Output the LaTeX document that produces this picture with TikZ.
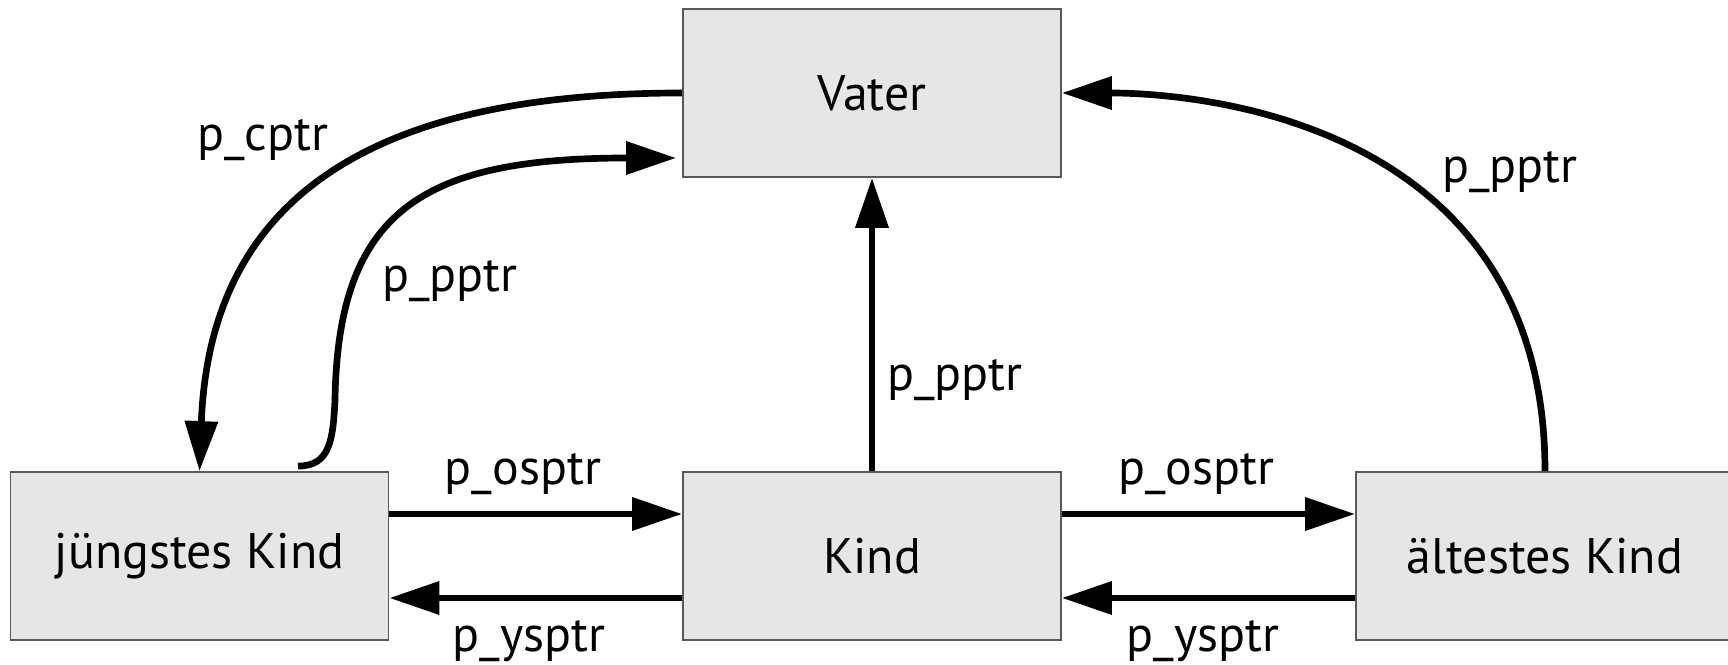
\documentclass[tikz,border=0pt]{standalone}
\usepackage{fontspec}
\setmainfont{PT Sans}
\usepackage{xcolor}
\usepackage{tikz}
\usetikzlibrary{arrows.meta}
\definecolor{boxgray}{HTML}{E6E6E6}
\tikzset{
  every node/.style={font=\fontsize{14.2}{17}\selectfont},
}
\begin{document}
\begin{tikzpicture}
		\tikzstyle{kbox}=[draw=black!65,line width=0.5pt,fill=boxgray,minimum width=3.78cm,minimum height=1.68cm,inner sep=0pt]
		\tikzstyle{ptr}=[line width=1.9pt,-{Triangle[length=0.5cm,width=0.32cm]}]
		\useasboundingbox (0,0) rectangle (17.28,-6.65);

		\node[kbox] (vater) at (8.72,-0.93) {Vater};
		\node[kbox] (jkind) at (1.995,-5.56) {jüngstes Kind};
		\node[kbox] (kind) at (8.72,-5.56) {Kind};
		\node[kbox] (akind) at (15.45,-5.56) {ältestes Kind};

		\node (lcptr) at (2.63,-1.40) {p\_cptr};
		\node (lpptrj) at (4.50,-2.81) {p\_pptr};
		\node (lpptrk) at (9.55,-3.80) {p\_pptr};
		\node (lpptra) at (15.10,-1.72) {p\_pptr};
		\node (losptrj) at (5.23,-4.74) {p\_osptr};
		\node (losptrk) at (11.96,-4.74) {p\_osptr};
		\node (lysptrk) at (5.29,-6.41) {p\_ysptr};
		\node (lysptra) at (12.03,-6.41) {p\_ysptr};

		\coordinate (bend) at (3.35,-4.00);

		\draw[ptr] (vater.west) .. controls +(-2.83,0) and +(0.11,2.92) .. (jkind.north);
		\draw[ptr] ([xshift=0.985cm,yshift=0.05cm]jkind.north) .. controls +(0.32,0) and +(-0.02,-0.40) .. (bend)
			.. controls +(0.03,1.90) and +(-2.53,0) .. ([xshift=-0.06cm,yshift=-0.65cm]vater.west);
		\draw[ptr] (kind) -- (vater);
		\draw[ptr] (akind.north) .. controls +(0,3.45) and +(1.45,0) .. (vater.east);

		\draw[ptr] ([yshift=0.42cm]jkind.east) -- ([yshift=0.42cm]kind.west);
		\draw[ptr] ([yshift=-0.42cm]kind.west) -- ([yshift=-0.42cm]jkind.east);
		\draw[ptr] ([yshift=0.42cm]kind.east) -- ([yshift=0.42cm]akind.west);
		\draw[ptr] ([yshift=-0.42cm]akind.west) -- ([yshift=-0.42cm]kind.east);

	\end{tikzpicture}
\end{document}
